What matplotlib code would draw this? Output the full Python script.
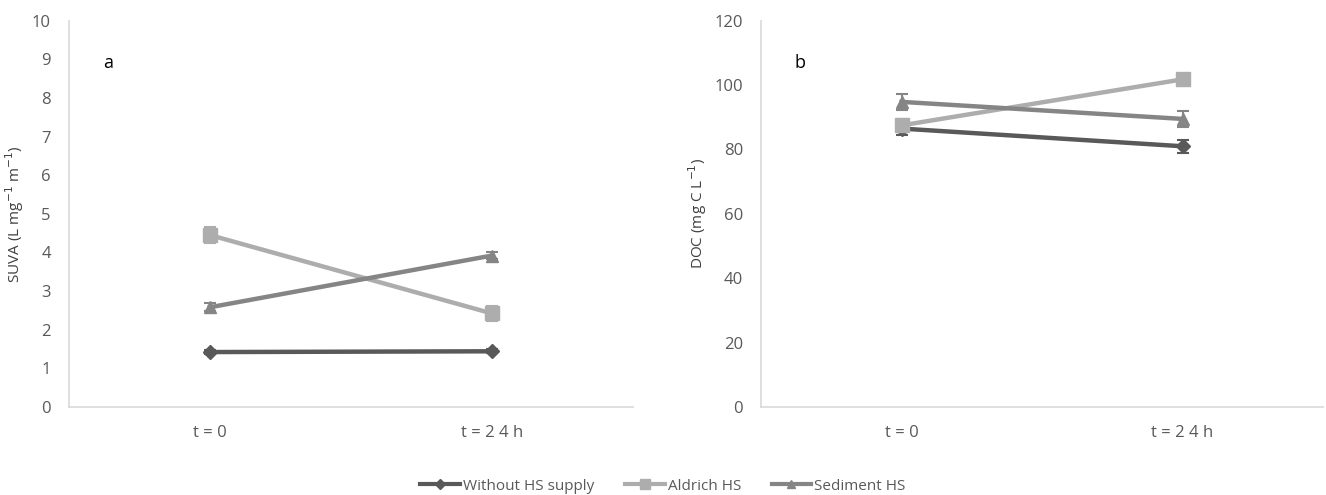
import numpy as np
import matplotlib.pyplot as plt
from matplotlib.lines import Line2D

plt.rcParams['font.family'] = ['Open Sans', 'DejaVu Sans']

# sampling times
times = ['t = 0', 't = 2 4 h']

# SUVA (L mg-1 m-1)
suva_without = [1.42, 1.44]
suva_aldrich = [4.45, 2.42]
suva_sediment = [2.58, 3.92]
suva_without_err = [0.05, 0.05]
suva_aldrich_err = [0.2, 0.2]
suva_sediment_err = [0.1, 0.1]

# DOC (mg C L-1)
doc_without = [86.5, 81.0]
doc_aldrich = [87.5, 101.8]
doc_sediment = [94.8, 89.5]
doc_without_err = [2.0, 2.0]
doc_aldrich_err = [2.0, 1.5]
doc_sediment_err = [2.6, 2.6]

series_names = ['Without HS supply', 'Aldrich HS', 'Sediment HS']
colors = ['#595959', '#adadad', '#858585']
markers = ['D', 's', '^']
msizes = [7, 10, 9]

fig = plt.figure(figsize=(13.26, 4.95), dpi=100)
ax1 = fig.add_axes([0.052, 0.178, 0.4253, 0.780])
ax2 = fig.add_axes([0.574, 0.178, 0.4238, 0.780])

x = np.arange(len(times))


def draw_panel(ax, vals, errs, ylim, yticks, ylabel, tag):
    for v, e, c, m, ms in zip(vals, errs, colors, markers, msizes):
        ax.errorbar(x, v, yerr=e, color=c, marker=m, markersize=ms,
                    linewidth=3.2, elinewidth=1.5, capsize=4, capthick=1.5,
                    ecolor=c)
    ax.set_xlim(-0.5, 1.5)
    ax.set_ylim(*ylim)
    ax.set_yticks(yticks)
    ax.set_xticks(x)
    ax.set_xticklabels(times)
    ax.spines['top'].set_visible(False)
    ax.spines['right'].set_visible(False)
    ax.spines['bottom'].set_color('#d9d9d9')
    ax.spines['left'].set_color('#d9d9d9')
    ax.spines['bottom'].set_linewidth(1.2)
    ax.spines['left'].set_linewidth(1.2)
    ax.tick_params(axis='both', length=0, colors='#595959', labelsize=12)
    ax.tick_params(axis='y', pad=13)
    ax.tick_params(axis='x', pad=13)
    ax.set_ylabel(ylabel, fontsize=11, color='#404040')
    ax.text(0.06, 0.89, tag, transform=ax.transAxes, fontsize=13,
            color='black', va='center')


draw_panel(ax1,
           [suva_without, suva_aldrich, suva_sediment],
           [suva_without_err, suva_aldrich_err, suva_sediment_err],
           (0, 10), range(0, 11),
           'SUVA (L mg$^{-1}$ m$^{-1}$)', 'a')
draw_panel(ax2,
           [doc_without, doc_aldrich, doc_sediment],
           [doc_without_err, doc_aldrich_err, doc_sediment_err],
           (0, 120), range(0, 121, 20),
           'DOC (mg C L$^{-1}$)', 'b')
ax1.yaxis.set_label_coords(-0.076, 0.5)
ax2.yaxis.set_label_coords(-0.092, 0.5)

handles = [Line2D([0], [0], color=c, marker=m, markersize=ms * 0.7,
                  linewidth=3)
           for c, m, ms in zip(colors, markers, msizes)]
leg = fig.legend(handles, series_names, loc='center',
                 bbox_to_anchor=(0.5, 0.018), ncol=3, frameon=False,
                 fontsize=11, handlelength=2.6, handletextpad=0.2,
                 columnspacing=2.0)
for t in leg.get_texts():
    t.set_color('#595959')

fig.savefig('out.png', dpi=100)
